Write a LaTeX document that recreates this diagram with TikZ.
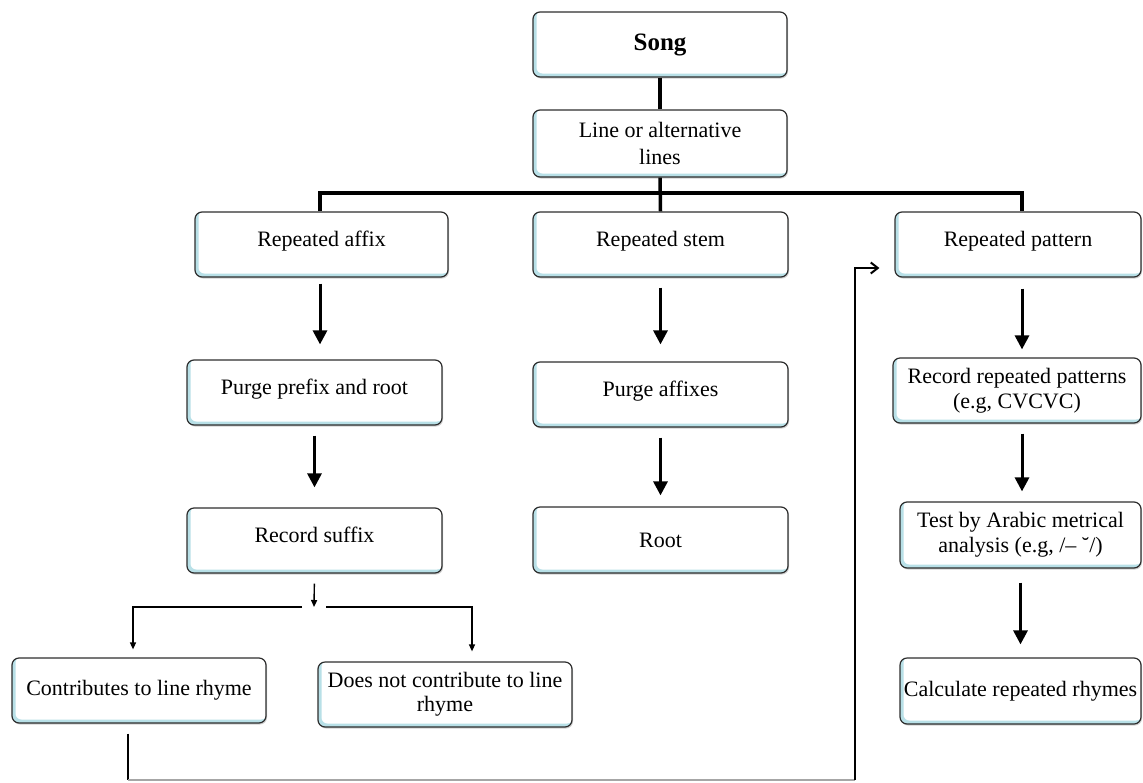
\documentclass[tikz,border=0pt]{standalone}
\usepackage{fontspec}
\setmainfont{Liberation Serif}
\usetikzlibrary{arrows.meta,shadows}
\definecolor{edge}{HTML}{2E2E2E}
\definecolor{tint}{HTML}{B8E0E7}
\begin{document}
\begin{tikzpicture}[x=1pt,y=-1pt,
  box/.style={draw=edge, line width=1.2pt, rounded corners=7pt, fill=tint,
    minimum height=65pt, inner sep=1pt, align=center,
    font=\fontsize{22}{27}\selectfont,
    drop shadow={shadow xshift=1pt, shadow yshift=-1.5pt, fill=black!30, opacity=.6},
    path picture={\fill[white,rounded corners=6pt]
      ([xshift=3.5pt,yshift=3.5pt]path picture bounding box.south west) rectangle
      ([xshift=1pt,yshift=1pt]path picture bounding box.north east);}},
  hi/.style={text depth=12pt},
  big/.style={line width=3pt, -{Triangle[length=14pt,width=14pt]}},
  conn/.style={line width=3.5pt},
  small/.style={line width=1.4pt, -{Triangle[length=7pt,width=6pt]}},
  fb/.style={line width=2pt}]
\useasboundingbox (0,0) rectangle (1143,782);

% nodes
\node[box, minimum width=254pt, minimum height=65pt, font=\fontsize{25}{28}\selectfont\bfseries] (song) at (660,44.5) {Song};
\node[box, minimum width=254pt, minimum height=67pt] (line) at (660,143.5) {Line or alternative\\lines};
\node[box, hi, minimum width=253pt] (affix) at (321.5,244.5) {Repeated affix};
\node[box, hi, minimum width=255pt] (stem) at (660.5,244.5) {Repeated stem};
\node[box, hi, minimum width=246pt] (pattern) at (1018,244.5) {Repeated pattern};
\node[box, hi, minimum width=255pt] (purgepr) at (314.5,392.5) {Purge prefix and root};
\node[box, hi, minimum width=255pt] (suffix) at (314.5,540.5) {Record suffix};
\node[box, minimum width=254pt] (contrib) at (139,690.5) {Contributes to line rhyme};
\node[box, minimum width=254pt] (notcontrib) at (445,694.5) {Does not contribute to line\\[-3pt]rhyme};
\node[box, hi, minimum width=255pt] (purgeaff) at (660.5,394.5) {Purge affixes};
\node[box, minimum width=255pt, minimum height=66pt] (root) at (660.5,540) {Root};
\node[box, minimum width=248pt] (record) at (1017,390.5) {Record repeated patterns\\[-2pt](e.g, CVCVC)};
\node[box, minimum width=241pt, minimum height=66pt] (test) at (1020.5,535) {Test by Arabic metrical\\[-2pt]analysis (e.g, /– ˘/)};
\node[box, minimum width=241pt, minimum height=66pt] (calc) at (1020.5,691) {Calculate repeated rhymes};

% coordinates
\coordinate (barL) at (320,193);
\coordinate (barR) at (1022,193);
\coordinate (split) at (314,607);
\coordinate (splitL) at (133,607);
\coordinate (splitR) at (472,607);
\coordinate (fbL) at (128,780);
\coordinate (fbR) at (855,780);
\coordinate (fbT) at (855,268);

% top connectors
\draw[conn] (song.south) -- (line.north);
\draw[conn] (line.south) -- (stem.north);
\draw[conn, line join=miter] (affix.north -| barL) -- (barL) -- (barR) -- (pattern.north -| barR);

% left column
\draw[big, shorten <=6pt, shorten >=15pt] (affix.south -| barL) -- (purgepr.north -| barL);
\draw[big, shorten <=10pt, shorten >=20pt] (purgepr.south) -- (suffix.north);
\draw[small, shorten <=10pt] (suffix.south) -- (split);
\draw[small, shorten >=8pt] ([xshift=-12pt]split) -- (splitL) -- (splitL |- contrib.north);
\draw[small, shorten >=10pt] ([xshift=12pt]split) -- (splitR) -- (splitR |- notcontrib.north);

% middle column
\draw[big, shorten <=10pt, shorten >=17pt] (stem.south) -- (purgeaff.north);
\draw[big, shorten <=10pt, shorten >=11pt] (purgeaff.south) -- (root.north);

% right column
\draw[big, shorten <=11pt, shorten >=8pt] (pattern.south -| barR) -- (record.north -| barR);
\draw[big, shorten <=10pt, shorten >=10pt] (record.south -| barR) -- (test.north -| barR);
\draw[big, shorten <=14pt, shorten >=13pt] (test.south) -- (calc.north);

% feedback
\draw[fb, shorten <=10pt] (contrib.south -| fbL) -- (fbL);
\draw[black!35, line width=1.2pt] (fbL) -- (fbR);
\draw[fb, -{Straight Barb[length=7pt,width=11pt]}, shorten >=15pt] (fbR) -- (fbT) -- (fbT -| pattern.west);
\end{tikzpicture}
\end{document}
